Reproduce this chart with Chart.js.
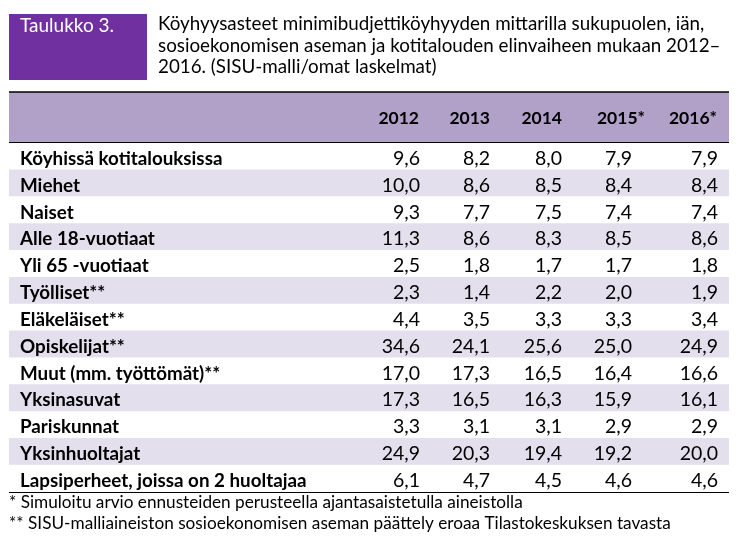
<!DOCTYPE html>
<html>
<head>
<meta charset="utf-8">
<script src="https://cdn.jsdelivr.net/npm/chart.js@4.4.1/dist/chart.umd.min.js"></script>
<style>
  html, body { margin: 0; padding: 0; background: #fff; }
  #wrap { width: 741px; height: 545px; }
</style>
</head>
<body>
<div id="wrap"><canvas id="table-chart" width="741" height="545"></canvas></div>
<script>
/* ---- Data ---- */
var years = ['2012', '2013', '2014', '2015*', '2016*'];
var rowLabels = [
  'Köyhissä kotitalouksissa', 'Miehet', 'Naiset', 'Alle 18-vuotiaat',
  'Yli 65 -vuotiaat', 'Työlliset**', 'Eläkeläiset**', 'Opiskelijat**',
  'Muut (mm. työttömät)**', 'Yksinasuvat', 'Pariskunnat', 'Yksinhuoltajat',
  'Lapsiperheet, joissa on 2 huoltajaa'
];
var v2012 = [9.6, 10.0, 9.3, 11.3, 2.5, 2.3, 4.4, 34.6, 17.0, 17.3, 3.3, 24.9, 6.1];
var v2013 = [8.2, 8.6, 7.7, 8.6, 1.8, 1.4, 3.5, 24.1, 17.3, 16.5, 3.1, 20.3, 4.7];
var v2014 = [8.0, 8.5, 7.5, 8.3, 1.7, 2.2, 3.3, 25.6, 16.5, 16.3, 3.1, 19.4, 4.5];
var v2015 = [7.9, 8.4, 7.4, 8.5, 1.7, 2.0, 3.3, 25.0, 16.4, 15.9, 2.9, 19.2, 4.6];
var v2016 = [7.9, 8.4, 7.4, 8.6, 1.8, 1.9, 3.4, 24.9, 16.6, 16.1, 2.9, 20.0, 4.6];
var columns = [v2012, v2013, v2014, v2015, v2016];

var tableNo = 'Taulukko 3.';
var titleLines = [
  'Köyhyysasteet minimibudjettiköyhyyden mittarilla sukupuolen, iän,',
  'sosioekonomisen aseman ja kotitalouden elinvaiheen mukaan 2012–',
  '2016. (SISU-malli/omat laskelmat)'
];
var footnotes = [
  '* Simuloitu arvio ennusteiden perusteella ajantasaistetulla aineistolla',
  '** SISU-malliaineiston sosioekonomisen aseman päättely eroaa Tilastokeskuksen tavasta'
];

/* ---- Layout / style ---- */
var FONT = "Lato, 'Open Sans', sans-serif";
var PURPLE = '#7030A0';
var HEADER_BG = '#B1A0C7';
var STRIPE = '#E4DFEC';
var valueRight = [420, 490, 562, 632, 718];
var headerRight = [419, 490, 562, 645, 717];

function fmt(v) { return v.toFixed(1).replace('.', ','); }

var tablePlugin = {
  id: 'tableText',
  afterDraw: function(chart) {
    var ctx = chart.ctx;
    var area = chart.chartArea;
    var yScale = chart.scales.y;
    var left = area.left, right = area.right;

    ctx.save();

    // title box
    ctx.fillStyle = PURPLE;
    ctx.fillRect(9, 14, 138, 66);
    ctx.fillStyle = '#fff';
    ctx.font = '19px ' + FONT;
    ctx.textBaseline = 'alphabetic';
    ctx.textAlign = 'left';
    ctx.fillText(tableNo, 20, 32);

    // title
    ctx.fillStyle = '#000';
    ctx.font = '18.8px ' + FONT;
    titleLines.forEach(function(t, i) {
      ctx.fillText(t, 158, 30 + i * 21.5);
    });

    // header band
    ctx.fillStyle = HEADER_BG;
    ctx.fillRect(left, 92, right - left, area.top - 92);
    ctx.fillStyle = '#000';
    ctx.font = 'bold 17.5px ' + FONT;
    ctx.textAlign = 'right';
    years.forEach(function(y, i) {
      ctx.fillText(y, headerRight[i], 124);
    });

    // rules
    ctx.strokeStyle = '#000';
    ctx.lineWidth = 1.5;
    ctx.beginPath(); ctx.moveTo(left, 92); ctx.lineTo(right, 92); ctx.stroke();
    ctx.lineWidth = 1;
    ctx.beginPath(); ctx.moveTo(left, area.top - 0.5); ctx.lineTo(right, area.top - 0.5); ctx.stroke();
    ctx.beginPath(); ctx.moveTo(left, area.bottom + 0.5); ctx.lineTo(right, area.bottom + 0.5); ctx.stroke();

    // rows
    rowLabels.forEach(function(label, r) {
      var y = yScale.getPixelForValue(r) + 8.4;
      ctx.textAlign = 'left';
      ctx.font = 'bold 18.8px ' + FONT;
      ctx.fillText(label, 20, y);
      ctx.textAlign = 'right';
      ctx.font = '19.5px ' + FONT;
      columns.forEach(function(col, c) {
        ctx.fillText(fmt(col[r]), valueRight[c], y);
      });
    });

    // footnotes
    ctx.textAlign = 'left';
    ctx.font = '17.2px ' + FONT;
    footnotes.forEach(function(t, i) {
      ctx.fillText(t, 9, 508 + i * 21);
    });

    ctx.restore();
  }
};

new Chart(document.getElementById('table-chart'), {
  type: 'bar',
  data: {
    labels: rowLabels,
    datasets: [{
      data: rowLabels.map(function() { return 1; }),
      backgroundColor: rowLabels.map(function(_, i) { return i % 2 ? STRIPE : '#ffffff'; }),
      borderWidth: 0,
      barPercentage: 1,
      categoryPercentage: 1
    }]
  },
  options: {
    indexAxis: 'y',
    responsive: false,
    animation: false,
    layout: { padding: { top: 143, left: 9, right: 12, bottom: 53 } },
    plugins: { legend: { display: false }, tooltip: { enabled: false } },
    scales: {
      x: { display: false, min: 0, max: 1 },
      y: { display: false }
    }
  },
  plugins: [tablePlugin]
});
</script>
</body>
</html>
